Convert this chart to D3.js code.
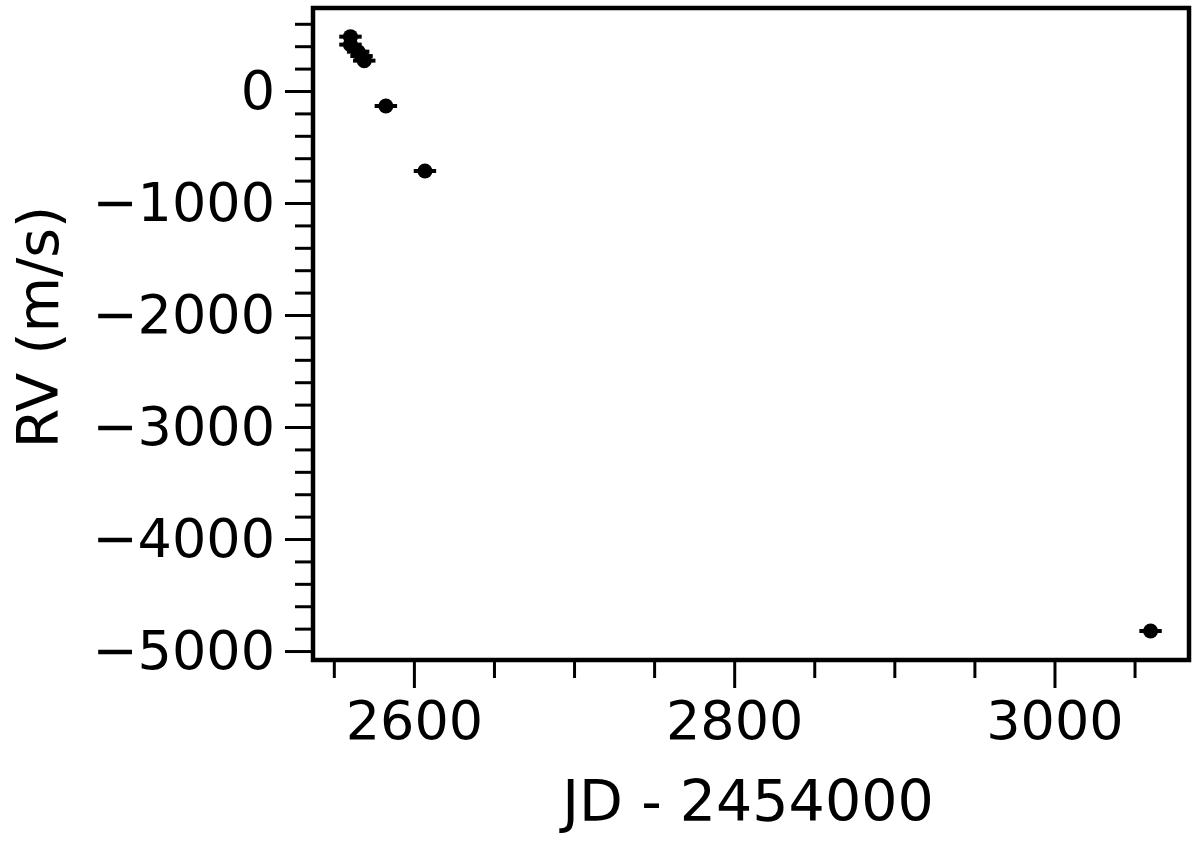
<!DOCTYPE html>
<html>
<head>
  <script src="https://d3js.org/d3.v7.min.js"></script>
  <style>
    body {
  margin: 0;
  background-color: #ffffff;
}

svg {
  display: block;
}

text {
  font-family: 'DejaVu Sans', sans-serif;
}

.tick line {
  stroke: #000;
  stroke-width: 3px;
}

.tick text {
  fill: #000;
  font-family: 'DejaVu Sans', sans-serif;
  font-size: 54px;
}

.frame {
  fill: none;
  stroke: #000;
  stroke-width: 4.5px;
}

.errbar {
  stroke: #000;
  stroke-width: 4px;
}

.dot {
  fill: #000;
}

.axis-label {
  font-size: 57px;
  fill: #000;
}
  </style>
</head>
<body>

<script>
// Observation epochs (JD - 2454000), radial velocities (m/s) and time errors.
const jd = [2560.4, 2560.4, 2565.2, 2567.3, 2569.0, 2582.5, 2606.9, 3060.0];
const rv = [485, 414, 351, 312, 271, -134, -714, -4821];
const jdErr = [7, 7, 7, 7, 7, 7, 7, 7];

// Tick values.
const xMajor = [2600, 2800, 3000];
const xMinor = [2550, 2650, 2700, 2750, 2850, 2900, 2950, 3050];
const yMajor = [0, -1000, -2000, -3000, -4000, -5000];
const yMinor = [600, 400, 200, -200, -400, -600, -800, -1200, -1400, -1600, -1800,
  -2200, -2400, -2600, -2800, -3200, -3400, -3600, -3800, -4200, -4400, -4600, -4800];

// Chart dimensions.
const width = 1200;
const height = 845;
const margin = { top: 8, right: 11, bottom: 185, left: 313 };

const x = d3.scaleLinear()
  .domain([2537, 3084])
  .range([margin.left, width - margin.right]);

const y = d3.scaleLinear()
  .domain([-5080, 741])
  .range([height - margin.bottom, margin.top]);

const svg = d3.select("body")
  .append("svg")
  .attr("width", width)
  .attr("height", height);

// Minor ticks first, then major ticks with labels.
svg.append("g")
  .attr("transform", `translate(0,${height - margin.bottom})`)
  .call(d3.axisBottom(x).tickValues(xMinor).tickSize(18).tickFormat(""))
  .call(g => g.select(".domain").remove());

svg.append("g")
  .attr("transform", `translate(0,${height - margin.bottom})`)
  .call(d3.axisBottom(x).tickValues(xMajor).tickSize(28).tickPadding(10).tickFormat(d3.format("d")))
  .call(g => g.select(".domain").remove())
  .call(g => g.selectAll(".tick text").attr("dy", "0.76em"));

svg.append("g")
  .attr("transform", `translate(${margin.left},0)`)
  .call(d3.axisLeft(y).tickValues(yMinor).tickSize(18).tickFormat(""))
  .call(g => g.select(".domain").remove());

svg.append("g")
  .attr("transform", `translate(${margin.left},0)`)
  .call(d3.axisLeft(y).tickValues(yMajor).tickSize(28).tickPadding(10)
    .tickFormat(d => d < 0 ? "\u2212" + Math.abs(d) : String(d)))
  .call(g => g.select(".domain").remove());

// Plot frame.
svg.append("rect")
  .attr("class", "frame")
  .attr("x", margin.left)
  .attr("y", margin.top)
  .attr("width", width - margin.left - margin.right)
  .attr("height", height - margin.top - margin.bottom);

// Points with horizontal error bars.
const pts = jd.map((d, i) => ({ jd: d, rv: rv[i], err: jdErr[i] }));

svg.selectAll(".errbar")
  .data(pts)
  .enter()
  .append("line")
  .attr("class", "errbar")
  .attr("x1", d => x(d.jd - d.err))
  .attr("x2", d => x(d.jd + d.err))
  .attr("y1", d => y(d.rv))
  .attr("y2", d => y(d.rv));

svg.selectAll(".dot")
  .data(pts)
  .enter()
  .append("circle")
  .attr("class", "dot")
  .attr("cx", d => x(d.jd))
  .attr("cy", d => y(d.rv))
  .attr("r", 7.5);

// Axis titles.
svg.append("text")
  .attr("class", "axis-label")
  .attr("x", (margin.left + width - margin.right) / 2 - 3)
  .attr("y", 821)
  .attr("text-anchor", "middle")
  .text("JD - 2454000");

svg.append("text")
  .attr("class", "axis-label")
  .attr("transform", `translate(58,${(margin.top + height - margin.bottom) / 2 - 7}) rotate(-90)`)
  .attr("text-anchor", "middle")
  .text("RV (m/s)");
</script>
</body>
</html>
